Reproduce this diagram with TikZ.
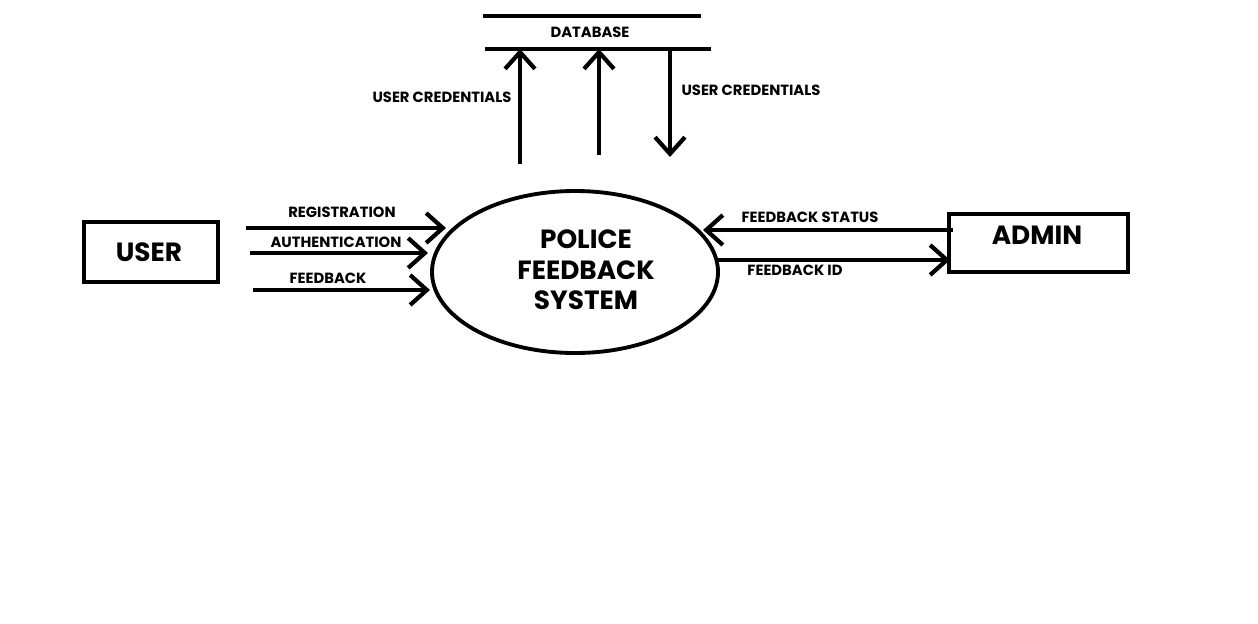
\documentclass[tikz,border=0pt]{standalone}
\usepackage{fontspec}
\setmainfont{Poppins}
\usetikzlibrary{arrows.meta,shapes.geometric}
\tikzset{
  flow/.style={line width=2.4pt,-{Straight Barb[length=9.5pt,width=17pt,line width=2.4pt]}},
  plain/.style={line width=2.4pt},
  box/.style={draw,line width=2.4pt,inner sep=0pt},
  lbl/.style={font=\fontsize{8.4}{10}\selectfont\bfseries,inner sep=0pt},
  big/.style={font=\fontsize{15}{17}\selectfont\bfseries,inner sep=0pt,align=center}
}
\begin{document}
\begin{tikzpicture}[x=0.02cm,y=-0.02cm]
\useasboundingbox (0,0) rectangle (1258,623);
% database
\coordinate (dbt1) at (483,16);
\coordinate (dbt2) at (701,16);
\coordinate (dbb1) at (485,49);
\coordinate (dbb2) at (711,49);
\draw[plain] (dbt1) -- (dbt2);
\draw[plain] (dbb1) -- (dbb2);
\node[lbl] (db) at (590,32) {DATABASE};
% user box
\node[box,minimum width=134*0.02cm,minimum height=60*0.02cm] (user) at (151,252) {};
\node[big] (usert) at (149,252) {USER};
% admin box
\node[box,minimum width=179*0.02cm,minimum height=58*0.02cm] (admin) at (1038.5,243) {};
\node[big] (admint) at (1037,235) {ADMIN};
% process
\node[draw,ellipse,line width=2.2pt,minimum width=286*0.02cm,minimum height=162*0.02cm,inner sep=0pt] (sys) at (575,272) {};
\node[big,font=\fontsize{15}{17.3}\selectfont\bfseries] (syst) at (586,270) {POLICE\\FEEDBACK\\SYSTEM};
% database flows
\coordinate (u1s) at (520,164); \coordinate (u1e) at (520,49);
\coordinate (u2s) at (599,155); \coordinate (u2e) at (599,49);
\coordinate (d1s) at (670,49);  \coordinate (d1e) at (670,157);
\draw[flow] (u1s) -- (u1e);
\draw[flow] (u2s) -- (u2e);
\draw[flow] (d1s) -- (d1e);
\node[lbl] (ucl) at (442,97) {USER CREDENTIALS};
\node[lbl] (ucr) at (751,90) {USER CREDENTIALS};
% user flows
\coordinate (r1) at (246,228); \coordinate (r2) at (446,228);
\coordinate (a1) at (250,253); \coordinate (a2) at (428,253);
\coordinate (f1) at (253,290); \coordinate (f2) at (430,290);
\draw[flow] (r1) -- (r2);
\draw[flow] (a1) -- (a2);
\draw[flow] (f1) -- (f2);
\node[lbl] (rl) at (342,212) {REGISTRATION};
\node[lbl] (al) at (336,242) {AUTHENTICATION};
\node[lbl] (fl) at (328,278) {FEEDBACK};
% admin flows
\coordinate (s1) at (953,230); \coordinate (s2) at (703,230);
\coordinate (i1) at (716,260); \coordinate (i2) at (950,260);
\draw[flow] (s1) -- (s2);
\draw[flow] (i1) -- (i2);
\node[lbl] (sl) at (810,217) {FEEDBACK STATUS};
\node[lbl] (il) at (795,270) {FEEDBACK ID};
\end{tikzpicture}
\end{document}
